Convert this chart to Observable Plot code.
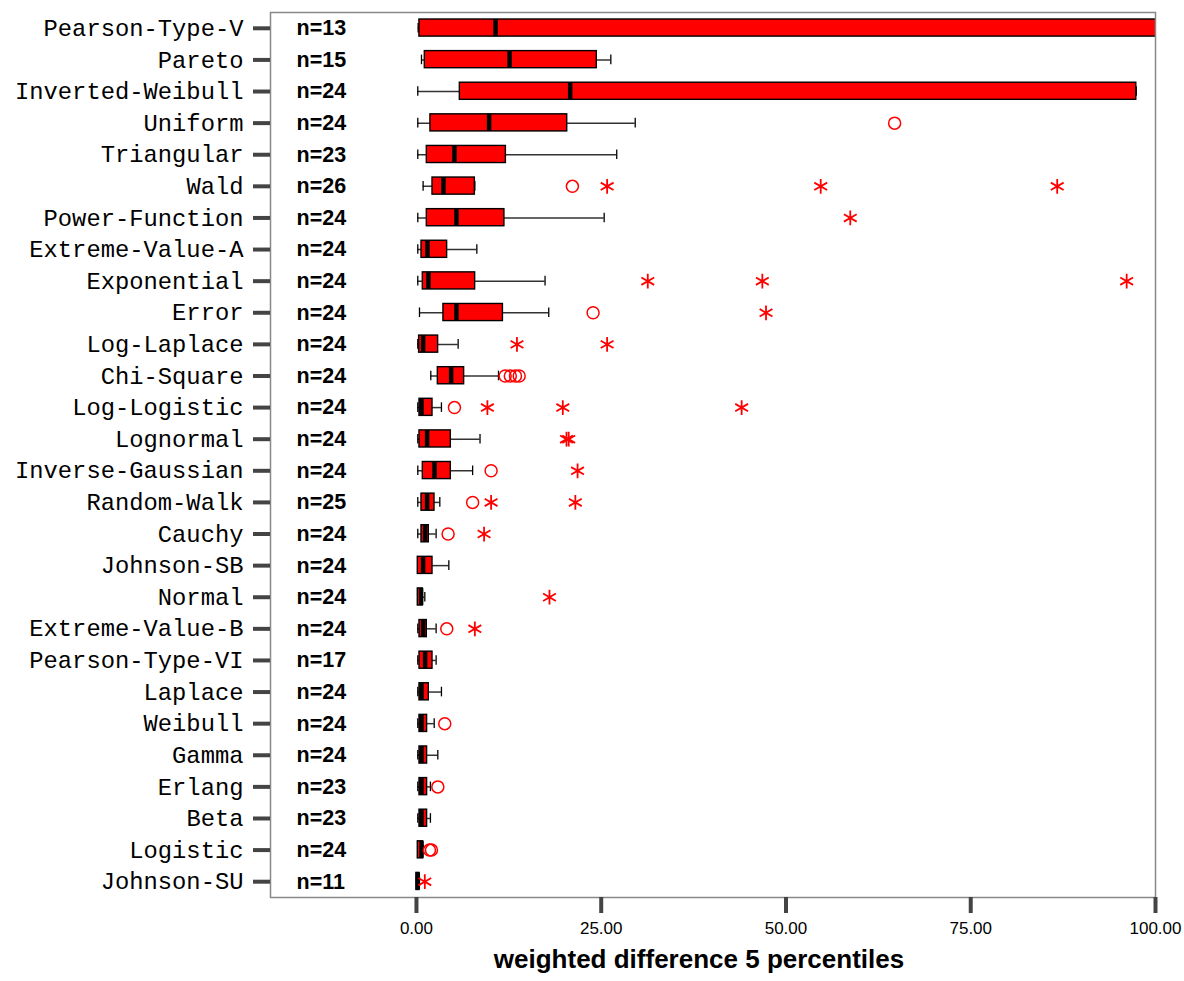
<!DOCTYPE html>
<html>
<head>
<meta charset="utf-8">
<script src="https://cdn.jsdelivr.net/npm/d3@7"></script>
<script src="https://cdn.jsdelivr.net/npm/@observablehq/plot@0.6"></script>
<style>
  html, body { margin: 0; padding: 0; background: #fff; }
  #chart { width: 1184px; height: 981px; }
</style>
</head>
<body>
<div id="chart"></div>
<script>
const names = ["Pearson-Type-V","Pareto","Inverted-Weibull","Uniform","Triangular","Wald","Power-Function","Extreme-Value-A","Exponential","Error","Log-Laplace","Chi-Square","Log-Logistic","Lognormal","Inverse-Gaussian","Random-Walk","Cauchy","Johnson-SB","Normal","Extreme-Value-B","Pearson-Type-VI","Laplace","Weibull","Gamma","Erlang","Beta","Logistic","Johnson-SU"];
const counts = [13,15,24,24,23,26,24,24,24,24,24,24,24,24,24,25,24,24,24,24,17,24,24,24,23,23,24,11];
const whiskerLow  = [0.23,0.68,0.18,0.18,0.18,0.90,0.18,0.18,0.18,0.41,0.18,1.94,0.18,0.18,0.18,0.18,0.18,0.18,0.18,0.18,0.18,0.18,0.18,0.18,0.18,0.18,0.18,0.00];
const q1          = [0.40,1.13,5.87,1.89,1.40,2.17,1.40,0.68,0.86,3.65,0.36,2.89,0.41,0.41,0.86,0.68,0.68,0.18,0.18,0.41,0.41,0.41,0.41,0.41,0.41,0.41,0.18,0.00];
const median      = [10.7,12.6,20.8,9.83,5.14,3.65,5.41,1.49,1.62,5.41,0.90,4.69,0.68,1.44,2.44,1.44,1.17,0.90,0.63,0.90,1.17,0.68,0.68,0.68,0.68,0.68,0.68,0.18];
const q3          = [115,24.4,97.4,20.4,12.1,7.90,11.9,4.15,7.94,11.7,2.93,6.45,2.17,4.65,4.65,2.44,1.67,2.17,0.86,1.40,2.17,1.67,1.44,1.44,1.44,1.44,0.90,0.41];
const whiskerHigh = [140,26.3,97.4,29.6,27.1,7.90,25.4,8.17,17.4,17.9,5.64,11.1,3.38,8.60,7.60,3.16,2.66,4.38,1.13,2.66,2.66,3.38,2.40,2.89,1.89,1.89,0.90,0.41];
const outliers = [[],[],[],[64.7],[],[21.1],[],[],[],[23.9],[],[12.0,12.7,13.4,13.9],[5.14],[],[10.1],[7.6],[4.28],[],[],[4.1],[],[],[3.83],[],[2.89],[],[1.76,2.03],[]];
const extremes = [[],[],[],[],[],[25.8,54.7,86.7],[58.7],[],[31.3,46.8,96.1],[47.3],[13.6,25.8],[],[9.6,19.8,44.0],[20.3,20.6],[21.8],[10.1,21.5],[9.15],[],[18.0],[7.9],[],[],[],[],[],[],[],[1.13]];
const xTicks = [0,25,50,75,100];
const xTitle = "weighted difference 5 percentiles";

const rows = names.map((name, i) => ({name, n: counts[i], lo: whiskerLow[i], q1: q1[i], med: median[i], q3: q3[i], hi: whiskerHigh[i]}));
const circ = names.flatMap((name, i) => outliers[i].map(v => ({name, v})));
const ext = names.flatMap((name, i) => extremes[i].map(v => ({name, v})));

const chart = Plot.plot({
  width: 1184,
  height: 981,
  marginLeft: 270,
  marginRight: 29,
  marginTop: 12,
  marginBottom: 84,
  style: {background: "#fff", color: "black", overflow: "visible"},
  x: {domain: [-19.75, 100]},
  y: {domain: names, padding: 0, round: false},
  marks: [
    Plot.ruleY(rows, {y: "name", x1: "lo", x2: "hi", stroke: "#333", strokeWidth: 1.5, clip: true}),
    Plot.tickX(rows, {x: "lo", y: "name", stroke: "black", strokeWidth: 1.3, inset: 11, clip: true}),
    Plot.tickX(rows, {x: "hi", y: "name", stroke: "black", strokeWidth: 1.3, inset: 11, clip: true}),
    Plot.barX(rows, {y: "name", x1: "q1", x2: "q3", fill: "#ff0000", stroke: "black", strokeWidth: 1.4, insetTop: 7, insetBottom: 7.5, clip: true}),
    Plot.tickX(rows, {x: "med", y: "name", stroke: "black", strokeWidth: 4.5, insetTop: 7, insetBottom: 7.5, clip: true}),
    Plot.dot(circ, {x: "v", y: "name", r: 6, stroke: "#ff0000", fill: "none", strokeWidth: 1.5}),
    Plot.dot(ext, {x: "v", y: "name", r: 7, symbol: "asterisk", stroke: "#ff0000", strokeWidth: 1.8}),
    Plot.text(rows, {y: "name", text: d => "n=" + d.n, frameAnchor: "left", dx: 26, textAnchor: "start", fontWeight: "bold", fontSize: 21.5, fontFamily: "Liberation Sans, Arial, sans-serif", fill: "black"}),
    Plot.frame({stroke: "#888", strokeWidth: 1.5}),
    Plot.axisY({tickSize: 17, tickPadding: 10, stroke: "#444", strokeWidth: 4, color: "black", fontSize: 23.8, fontFamily: "Liberation Mono, Courier New, monospace", label: null}),
    Plot.axisX({ticks: xTicks, tickFormat: d3.format(".2f"), tickSize: 16, tickPadding: 8, stroke: "#444", strokeWidth: 4, color: "black", fontSize: 17, fontFamily: "Liberation Sans, Arial, sans-serif", label: null}),
    Plot.text([xTitle], {text: d => d, frameAnchor: "bottom", dy: 70, dx: -14, fontSize: 26, fontWeight: "bold", fontFamily: "Liberation Sans, Arial, sans-serif", fill: "black"})
  ]
});
document.getElementById("chart").appendChild(chart);
</script>
</body>
</html>
